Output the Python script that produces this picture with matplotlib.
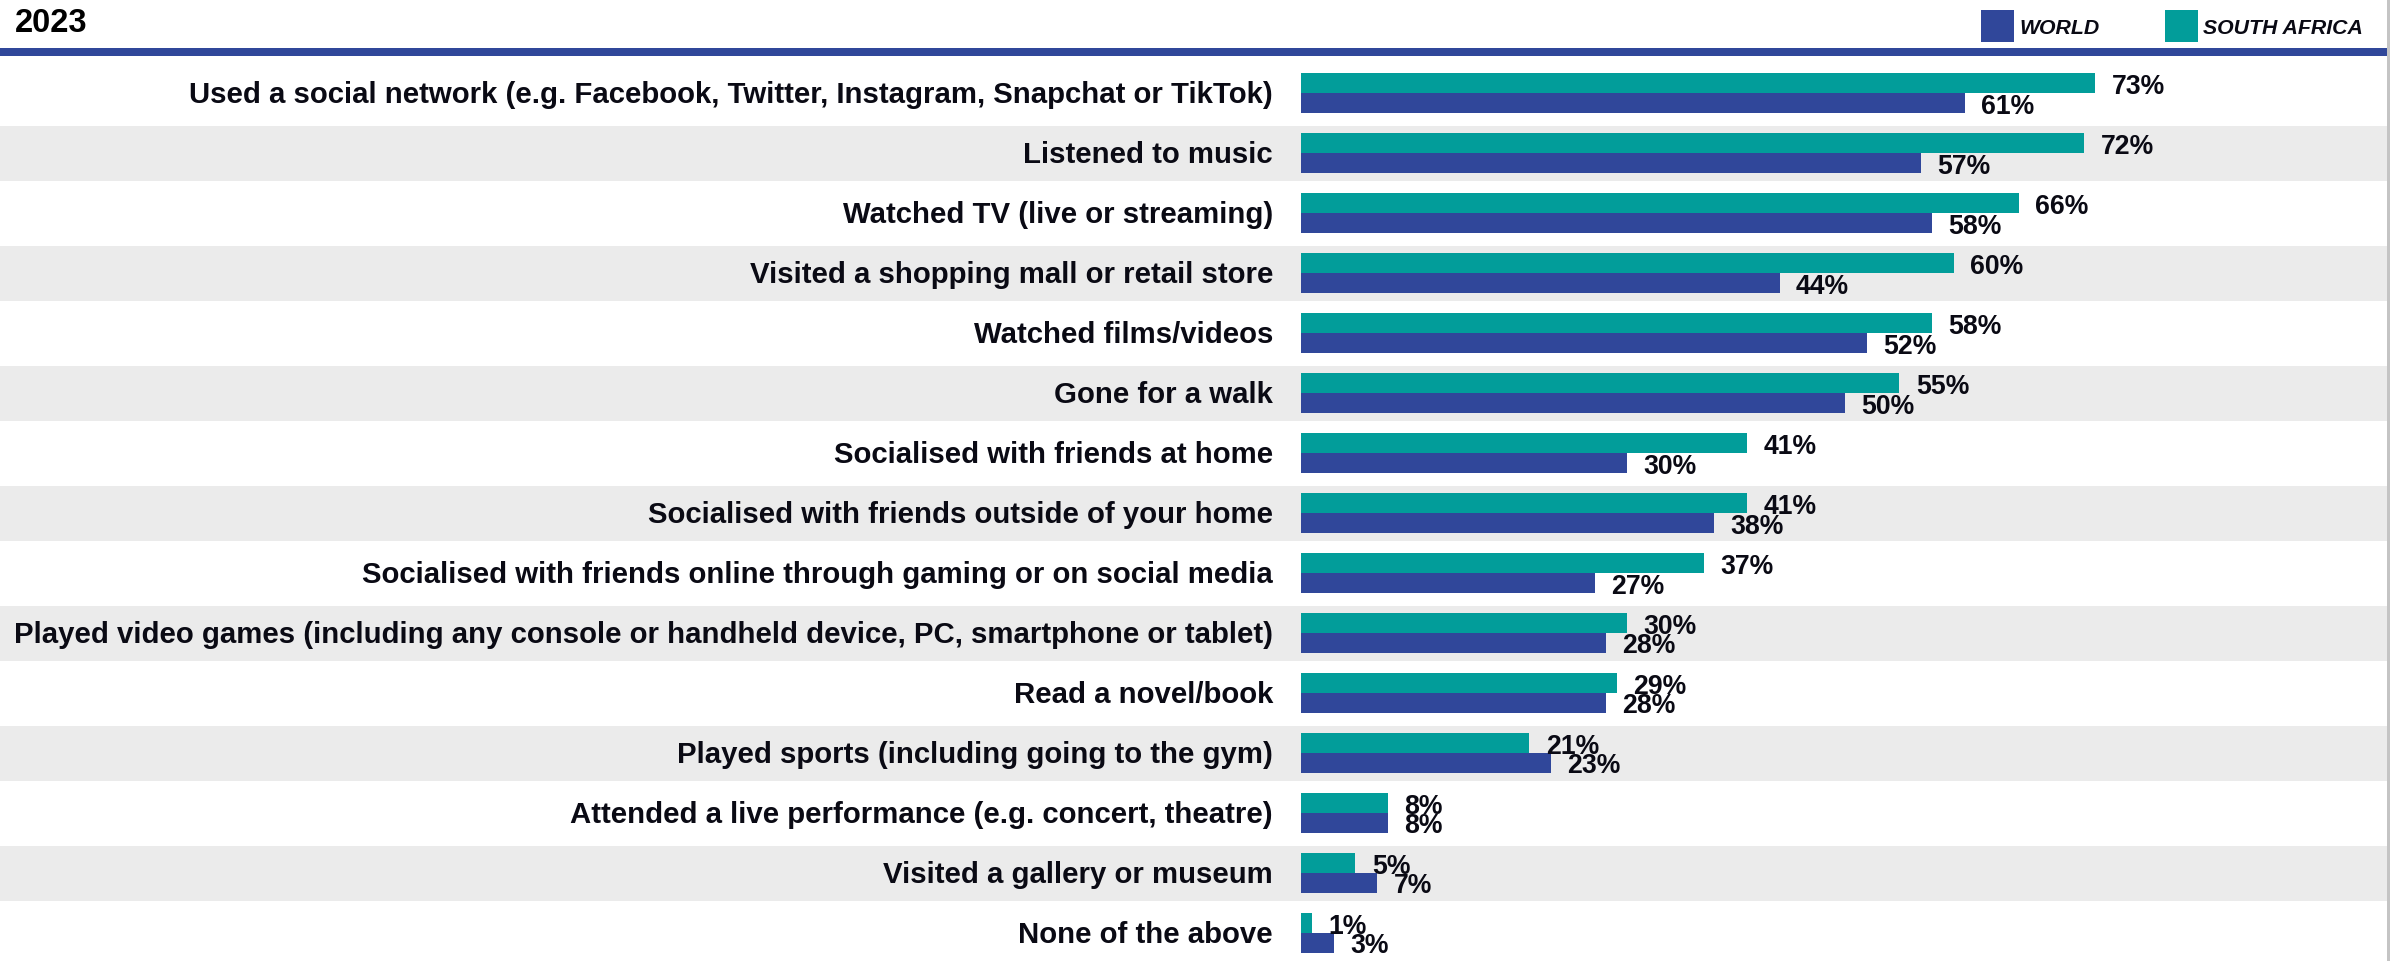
import matplotlib
matplotlib.use("Agg")
import matplotlib.pyplot as plt
from matplotlib.patches import Rectangle
from matplotlib.transforms import blended_transform_factory

# Activities and shares (%) for 2023
categories = [
    "Used a social network (e.g. Facebook, Twitter, Instagram, Snapchat or TikTok)",
    "Listened to music",
    "Watched TV (live or streaming)",
    "Visited a shopping mall or retail store",
    "Watched films/videos",
    "Gone for a walk",
    "Socialised with friends at home",
    "Socialised with friends outside of your home",
    "Socialised with friends online through gaming or on social media",
    "Played video games (including any console or handheld device, PC, smartphone or tablet)",
    "Read a novel/book",
    "Played sports (including going to the gym)",
    "Attended a live performance (e.g. concert, theatre)",
    "Visited a gallery or museum",
    "None of the above",
]
south_africa = [73, 72, 66, 60, 58, 55, 41, 41, 37, 30, 29, 21, 8, 5, 1]
world = [61, 57, 58, 44, 52, 50, 30, 38, 27, 28, 28, 23, 8, 7, 3]
series_names = ["WORLD", "SOUTH AFRICA"]
title = "2023"

TEAL = "#029D9A"
BLUE = "#30479A"
BAND = "#EBEBEB"
INK = "#0a0a14"
FONT = "Liberation Sans"

W, H, DPI = 2397, 962, 100
fig = plt.figure(figsize=(W / DPI, H / DPI), dpi=DPI)
fig.patch.set_facecolor("white")

# plot area: x 0..100 % spans px 1301..2389, rows are 60 px apart
row_px = 60.0
top_px = 64.0
ax = fig.add_axes([1301 / W, 0, 1088 / W, (H - top_px) / H])
ax.set_xlim(0, 100)
ax.set_ylim(-0.5 + (H - top_px) / row_px, -0.5)
ax.axis("off")

ys = list(range(len(categories)))
bar_h = 1 / 3

# alternating grey bands across the full width
band_tr = blended_transform_factory(fig.transFigure, ax.transData)
for i in ys:
    if i % 2 == 1:
        ax.add_patch(Rectangle((0, i - 27.5 / row_px + 0.5 / row_px), 2387 / W, 55 / row_px,
                               transform=band_tr, facecolor=BAND, edgecolor="none",
                               zorder=0, clip_on=False))

ax.barh([y - bar_h / 2 for y in ys], south_africa, height=bar_h, color=TEAL, zorder=2)
ax.barh([y + bar_h / 2 for y in ys], world, height=bar_h, color=BLUE, zorder=2)

# category labels, right-aligned left of the bars
for i, cat in zip(ys, categories):
    ax.text(1273 / W, i + 8.7 / row_px, cat, transform=band_tr, ha="right", va="baseline",
            fontsize=21.2, fontweight="bold", family=FONT, color=INK, zorder=3, clip_on=False)

# value labels
for i, (sa, wd) in zip(ys, zip(south_africa, world)):
    ax.text(sa + 1.5, i + 0.0, f"{sa}%", ha="left", va="baseline", fontsize=19.2,
            fontweight="bold", family=FONT, color=INK, zorder=4, clip_on=False)
    ax.text(wd + 1.5, i + 19.5 / row_px, f"{wd}%", ha="left", va="baseline", fontsize=19.2,
            fontweight="bold", family=FONT, color=INK, zorder=4, clip_on=False)

# header: year, rule and legend
fig.text(15 / W, 1 - 32 / H, title, ha="left", va="baseline", fontsize=23.5,
         fontweight="bold", family=FONT, color="black")
fig.add_artist(Rectangle((0, 1 - 57 / H), 2389 / W, 8 / H, transform=fig.transFigure,
                         facecolor=BLUE, edgecolor="none"))
fig.add_artist(Rectangle((2387 / W, 0), 3 / W, 1, transform=fig.transFigure,
                         facecolor="#C4C4C4", edgecolor="none"))

legend_items = [(series_names[0], BLUE, 1981), (series_names[1], TEAL, 2165)]
for name, col, x0 in legend_items:
    fig.add_artist(Rectangle((x0 / W, 1 - 43 / H), 33 / W, 32 / H, transform=fig.transFigure,
                             facecolor=col, edgecolor="none"))
    fig.text((x0 + 38) / W, 1 - 34 / H, name, ha="left", va="baseline", fontsize=15.3,
             fontweight="bold", fontstyle="italic", family=FONT, color=INK)

fig.savefig("out.png", dpi=DPI, facecolor="white")
